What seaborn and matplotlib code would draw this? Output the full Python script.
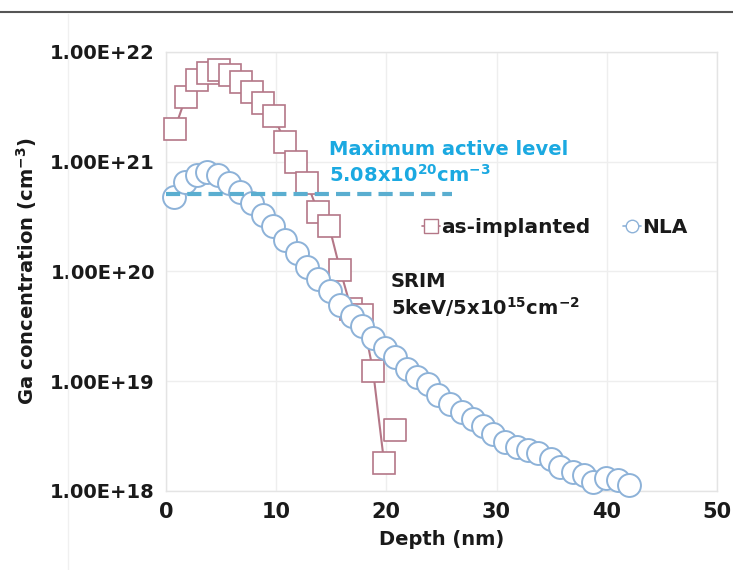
"""
Perfil de Ga: as-implanted (SRIM) vs NLA, escala log.
Correr: python3 plot.py -> out.png
"""
import numpy as np
import pandas as pd
import matplotlib
matplotlib.use("Agg")
import matplotlib.pyplot as plt
from matplotlib.lines import Line2D
import seaborn as sns

# ===== datos =====
DEPTH_IMPL = [0.8, 1.8, 2.8, 3.8, 4.8, 5.8, 6.8, 7.8, 8.8, 9.8, 10.8, 11.8,
              12.8, 13.8, 14.8, 15.8, 16.8, 17.8, 18.8, 19.8]
CONC_IMPL = [2.0e21, 3.9e21, 5.6e21, 6.4e21, 6.9e21, 6.2e21, 5.3e21, 4.3e21,
             3.4e21, 2.6e21, 1.5e21, 1.0e21, 6.4e20, 3.5e20, 2.6e20, 1.04e20,
             4.6e19, 4.0e19, 1.23e19, 1.8e18]
DEPTH_IMPL_TAIL = [20.8]
CONC_IMPL_TAIL = [3.6e18]

DEPTH_NLA = [0.7, 1.7, 2.8, 3.7, 4.7, 5.7, 6.7, 7.8, 8.8, 9.7, 10.8, 11.9,
             12.8, 13.8, 14.9, 15.8, 16.9, 17.8, 18.8, 19.9, 20.8, 21.9,
             22.8, 23.8, 24.7, 25.8, 26.9, 27.9, 28.8, 29.7, 30.8, 31.9,
             32.9, 33.8, 34.9, 35.8, 36.9, 37.9, 38.8, 39.9, 41.0, 42.0]
CONC_NLA = [4.8e20, 6.6e20, 7.6e20, 8.1e20, 7.6e20, 6.4e20, 5.3e20, 4.2e20,
            3.3e20, 2.6e20, 1.95e20, 1.48e20, 1.11e20, 8.5e19, 6.6e19, 5.0e19,
            3.9e19, 3.2e19, 2.5e19, 2.0e19, 1.65e19, 1.3e19, 1.1e19, 9.4e18,
            7.5e18, 6.2e18, 5.2e18, 4.5e18, 3.9e18, 3.3e18, 2.8e18, 2.5e18,
            2.35e18, 2.2e18, 1.94e18, 1.67e18, 1.5e18, 1.4e18, 1.2e18, 1.3e18,
            1.25e18, 1.13e18]

MAX_ACTIVE = 5.08e20
MAX_ACTIVE_XEND = 26
Y_TICKS = [1e18, 1e19, 1e20, 1e21, 1e22]
Y_TICKLABELS = ["1.00E+18", "1.00E+19", "1.00E+20", "1.00E+21", "1.00E+22"]
X_TICKS = [0, 10, 20, 30, 40, 50]

C_IMPL = "#b47787"
C_NLA = "#8db2d8"
C_MAX = "#5aaed0"
C_MAX_TXT = "#1ba9e1"
C_TXT = "#1a1a1a"
MS = 16.5

sns.set_style("white")
plt.rcParams["font.family"] = ["DejaVu Sans"]
plt.rcParams["font.weight"] = "bold"

df_impl = pd.DataFrame({"depth": DEPTH_IMPL, "conc": CONC_IMPL})
df_tail = pd.DataFrame({"depth": DEPTH_IMPL_TAIL, "conc": CONC_IMPL_TAIL})
df_nla = pd.DataFrame({"depth": DEPTH_NLA, "conc": CONC_NLA})

fig = plt.figure(figsize=(7.33, 5.70), dpi=100)
ax = fig.add_axes([0.2265, 0.1386, 0.7515, 0.7702])

# as-implanted (cuadrados) — debajo
sns.lineplot(data=df_impl, x="depth", y="conc", ax=ax, color=C_IMPL, lw=1.5,
             marker="s", markersize=MS, markerfacecolor="white",
             markeredgecolor=C_IMPL, markeredgewidth=1.2, zorder=3,
             clip_on=False)
sns.scatterplot(data=df_tail, x="depth", y="conc", ax=ax, marker="s",
                s=MS ** 2, facecolor="white", edgecolor=C_IMPL, linewidth=1.2,
                zorder=3)
# NLA (círculos)
sns.lineplot(data=df_nla, x="depth", y="conc", ax=ax, color=C_NLA, lw=1.5,
             marker="o", markersize=MS, markerfacecolor="white",
             markeredgecolor=C_NLA, markeredgewidth=1.4, zorder=4,
             clip_on=False)
# nivel activo máximo — arriba de todo
sns.lineplot(x=[0, MAX_ACTIVE_XEND], y=[MAX_ACTIVE, MAX_ACTIVE], ax=ax,
             color=C_MAX, lw=3, dashes=(3.4, 1.7), zorder=5)

ax.set_yscale("log")
ax.set_xlim(0, 50)
ax.set_ylim(1e18, 1e22)
ax.set_xticks(X_TICKS)
ax.set_xticklabels([str(t) for t in X_TICKS], fontsize=15, fontweight="bold")
ax.set_yticks(Y_TICKS)
ax.set_yticklabels(Y_TICKLABELS, fontsize=14, fontweight="bold")
ax.minorticks_off()
ax.tick_params(axis="both", length=0, pad=8, colors=C_TXT)
ax.grid(True, color="#eeeeee", lw=1)
for s in ax.spines.values():
    s.set_color("#e4e4e4")
    s.set_linewidth(1)
ax.set_xlabel("Depth (nm)", fontsize=14, fontweight="bold", labelpad=6,
              color=C_TXT)
ax.set_ylabel("Ga concentration (cm$^{\\mathbf{-3}}$)", fontsize=14,
              fontweight="bold", labelpad=8, color=C_TXT)

ax.text(14.8, 1.16e21, "Maximum active level", color=C_MAX_TXT,
        fontsize=14, fontweight="bold", va="baseline", zorder=6)
ax.text(14.8, 6.6e20, "5.08x10$^{\\mathbf{20}}$cm$^{\\mathbf{-3}}$",
        color=C_MAX_TXT, fontsize=14, fontweight="bold", va="baseline",
        zorder=6)
ax.text(20.4, 7.2e19, "SRIM", color=C_TXT, fontsize=14,
        fontweight="bold", va="baseline", zorder=6)
ax.text(20.4, 4.06e19, "5keV/5x10$^{\\mathbf{15}}$cm$^{\\mathbf{-2}}$",
        color=C_TXT, fontsize=14, fontweight="bold", va="baseline", zorder=6)

handles = [
    Line2D([], [], color=C_IMPL, lw=1.2, marker="s", markersize=9.5,
           markerfacecolor="white", markeredgecolor=C_IMPL),
    Line2D([], [], color=C_NLA, lw=1.2, marker="o", markersize=9,
           markerfacecolor="white", markeredgecolor=C_NLA),
]
leg = ax.legend(handles, ["as-implanted", "NLA"], ncol=2, frameon=False,
                loc="center left", bbox_to_anchor=(0.465, 0.60),
                handlelength=0.9, handletextpad=0.05, columnspacing=1.6,
                borderaxespad=0, borderpad=0,
                prop={"size": 14.5, "weight": "bold"})
for t in leg.get_texts():
    t.set_color(C_TXT)

# bordes del recorte original
fig.add_artist(Line2D([0, 1], [0.979, 0.979], color="#555555", lw=1.5,
                      transform=fig.transFigure))
fig.add_artist(Line2D([0.093, 0.093], [0, 0.975], color="#f0f0f0", lw=1,
                      transform=fig.transFigure))

fig.savefig("out.png", dpi=100)
